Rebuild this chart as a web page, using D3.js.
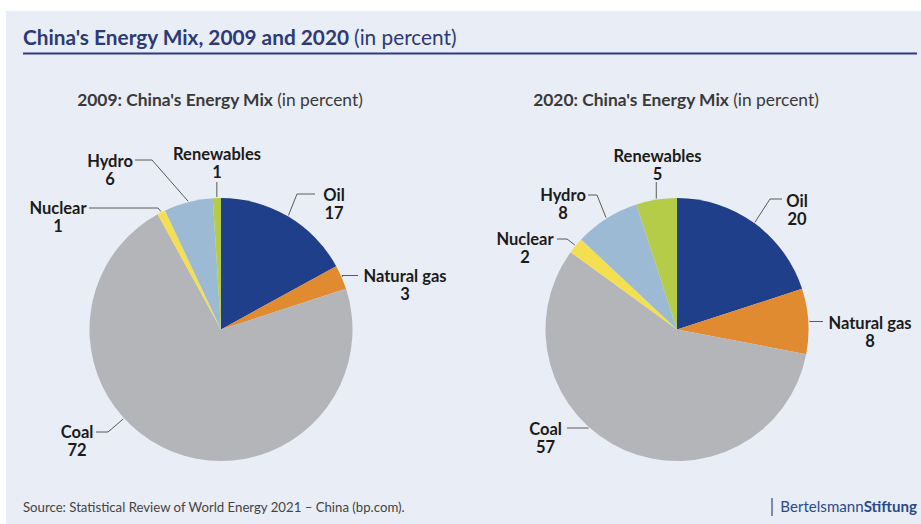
<!DOCTYPE html>
<html>
<head>
<meta charset="utf-8">
<script src="https://cdn.jsdelivr.net/npm/d3@7"></script>
<style>
  html, body { margin: 0; padding: 0; background: #ffffff; }
  svg { display: block; font-family: Lato, "Open Sans", sans-serif; }
</style>
</head>
<body>
<svg id="chart" width="921" height="524"></svg>
<script>
// Energy sources, in the order the slices run clockwise from 12 o'clock
const categories = ["Oil", "Natural gas", "Coal", "Nuclear", "Hydro", "Renewables"];
const values2009 = [17, 3, 72, 1, 6, 1];
const values2020 = [20, 8, 57, 2, 8, 5];
const years = ["2009", "2020"];
const colors = ["#203f8b", "#e08b2f", "#b4b5b9", "#f4df50", "#9dbad5", "#b4cc47"];

// Label placement for each slice, relative to its pie centre:
// text = [x, baseline], end = line end beside the text, elbow = bend point,
// t = where along the slice the leader meets the rim (0..1)
const labelLayout2009 = [
  { text: [113, -129.5], end: [94, -135.5],  elbow: [76, -135.5],  t: 0.5 },
  { text: [184, -48.5],  end: [137, -54],    elbow: [121, -54],    t: 0.5 },
  { text: [-144, 107.5], end: [-125, 102.5], elbow: [-113, 102.5], t: 0.6 },
  { text: [-163, -116.5],end: [-132, -121.5],elbow: [-63, -121.5], t: 0.5 },
  { text: [-111, -163.5],end: [-86, -169.5], elbow: [-69, -169.5], t: 0.5 },
  { text: [-4, -170.5],  end: [-4, -147.5],  elbow: null,          t: 0.5 }
];
const labelLayout2020 = [
  { text: [120, -123.5], end: [105, -130.5], elbow: [93, -130.5],  t: 0.5 },
  { text: [193, -1.5],   end: [146, -8],     elbow: [133, -8],     t: 0.5 },
  { text: [-131.5, 104.5], end: [-110, 98.5], elbow: [-90, 98.5],  t: 0.59 },
  { text: [-152, -85.5], end: [-120, -90.5], elbow: [-110, -90.5], t: 0.5 },
  { text: [-114, -129.5],end: [-89, -134.5], elbow: [-80, -134.5], t: 0.5 },
  { text: [-19.5, -168.5], end: [-20, -147.5], elbow: null,        t: 0.5 }
];

const W = 921, H = 524;
const svg = d3.select("#chart");

// panel background
svg.append("rect").attr("x", 6).attr("y", 11).attr("width", W - 6).attr("height", H - 11)
  .attr("fill", "#e9edf5");

// title
const title = svg.append("text").attr("x", 23).attr("y", 44.5)
  .attr("font-size", 20.8).attr("fill", "#2c3a78");
title.append("tspan").attr("font-weight", 700).text("China's Energy Mix, 2009 and 2020 ");
title.append("tspan").attr("font-weight", 400).text("(in percent)");
svg.append("line").attr("x1", 23).attr("x2", 917).attr("y1", 53.5).attr("y2", 53.5)
  .attr("stroke", "#2e3a87").attr("stroke-width", 2);

const radius = 131.5;
const pie = d3.pie().sort(null).value(d => d.value);
const arc = d3.arc().innerRadius(0).outerRadius(radius);

const charts = [
  { year: years[0], values: values2009, layout: labelLayout2009, cx: 221, cy: 329.5 },
  { year: years[1], values: values2020, layout: labelLayout2020, cx: 677, cy: 329.5 }
];

charts.forEach(c => {
  const g = svg.append("g").attr("transform", `translate(${c.cx},${c.cy})`);
  const data = categories.map((name, i) => ({ name, value: c.values[i], i }));
  const arcs = pie(data);

  // subtitle
  const st = svg.append("text").attr("x", c.cx - 1).attr("y", 106)
    .attr("text-anchor", "middle").attr("font-size", 17.4).attr("fill", "#3a3a3a");
  st.append("tspan").attr("font-weight", 700).text(`${c.year}: China's Energy Mix `);
  st.append("tspan").attr("font-weight", 400).text("(in percent)");

  g.selectAll("path.slice").data(arcs).join("path")
    .attr("class", "slice")
    .attr("d", arc)
    .attr("fill", d => colors[d.data.i]);

  // leader lines and labels
  arcs.forEach(a => {
    const L = c.layout[a.data.i];
    const ang = a.startAngle + (a.endAngle - a.startAngle) * L.t;
    const rr = radius + 1;
    const ax = Math.sin(ang) * rr, ay = -Math.cos(ang) * rr;
    const pts = [[ax, ay]];
    if (L.elbow) pts.push(L.elbow);
    pts.push(L.elbow ? L.end : [ax, L.end[1]]);
    g.append("path")
      .attr("d", d3.line()(pts))
      .attr("fill", "none").attr("stroke", "#5a5a5a").attr("stroke-width", 1);

    const t = g.append("text").attr("text-anchor", "middle")
      .attr("font-size", 16.5).attr("font-weight", 700).attr("fill", "#1b1b1b");
    t.append("tspan").attr("x", L.text[0]).attr("y", L.text[1] + 0.5).text(a.data.name);
    t.append("tspan").attr("x", L.text[0]).attr("y", L.text[1] + 19).text(a.data.value);
  });
});

// footer
svg.append("text").attr("x", 23).attr("y", 512).attr("font-size", 13.2).attr("fill", "#444")
  .text("Source: Statistical Review of World Energy 2021 – China (bp.com).");
svg.append("line").attr("x1", 772).attr("x2", 772).attr("y1", 498).attr("y2", 516)
  .attr("stroke", "#2b4a8a").attr("stroke-width", 1.2);
const brand = svg.append("text").attr("x", 917).attr("y", 512).attr("text-anchor", "end")
  .attr("font-size", 15.1).attr("fill", "#2b4a8a");
brand.append("tspan").attr("font-weight", 400).text("Bertelsmann");
brand.append("tspan").attr("font-weight", 700).text("Stiftung");
</script>
</body>
</html>
